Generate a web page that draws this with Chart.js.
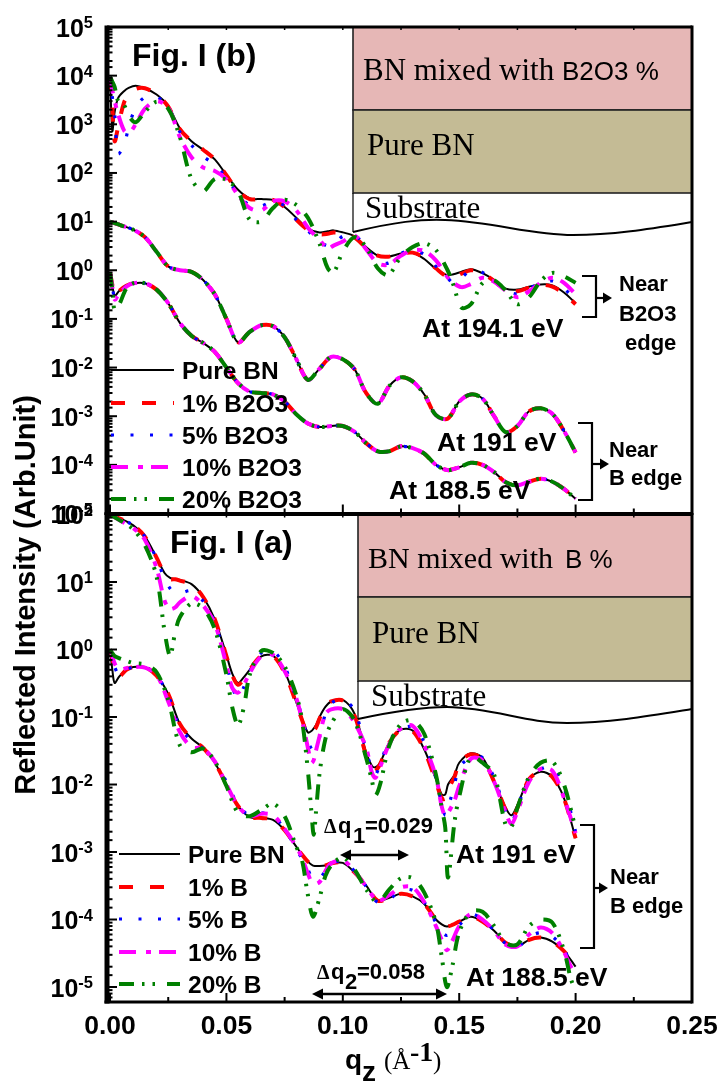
<!DOCTYPE html>
<html><head><meta charset="utf-8">
<style>html,body{margin:0;padding:0;background:#fff}canvas{position:absolute;left:0;top:0}</style>
<script src="https://cdn.jsdelivr.net/npm/chart.js@4/dist/chart.umd.js"></script>
</head><body>
<canvas id="panelB" width="722" height="1082"></canvas>
<canvas id="panelA" width="722" height="1082"></canvas>
<script>
// ---------- tick labels ----------
const xTickLabels = ['0.00','0.05','0.10','0.15','0.20','0.25'];
const yExponentsB = [5,4,3,2,1,0,-1,-2,-3,-4,-5];
const yExponentsA = [2,1,0,-1,-2,-3,-4,-5];
// ---------- series names ----------
const legendLabelsB = ['Pure BN','1% B2O3','5% B2O3','10% B2O3','20% B2O3'];
const legendLabelsA = ['Pure BN','1% B','5% B','10% B','20% B'];

// ---------- Fig. I (b): At 194.1 eV ----------
const qB194 = [0,.001,.002,.0035,.006,.008,.011,.015,.02,.025,.03,.035,.04,.045,.05,.055,.06,.065,.07,.075,.08,.085,.09,.0935,.096,.10,.105,.11,.115,.1195,.125,.13,.135,.14,.145,.1475,.151,.155,.16,.165,.17,.175,.18,.185,.19,.195,.20];
const b194Pure = [9.5e3,7.4e2,1.8e3,3.5e3,4.8e3,5.6e3,6.2e3,5.5e3,4.1e3,2.4e3,8.3e2,4.5e2,3e2,1.9e2,91,45,30,29,28,20,12,7.2,6,6.3,6.6,6,5,3,2,1.9,2.2,2.3,1.7,1.07,.79,.83,.93,1.05,.87,.63,.42,.40,.46,.51,.49,.35,.21];
const b194P1 = [9.5e3,2.2e3,4.5e2,9e2,2.8e3,4e3,5.3e3,5.5e3,4.1e3,2.3e3,8e2,4.5e2,3e2,1.9e2,90,43,29,29,28,20,11,6.8,5.5,5.6,6,5.7,4.7,2.9,2,1.9,2.2,2.3,1.8,1.1,.72,.72,.85,1,.87,.6,.41,.37,.44,.5,.46,.33,.2];
const b194P5 = [9.5e3,3.6e3,1.6e3,2.5e2,3.7e2,8.7e2,2.2e3,3.6e3,3.7e3,2.2e3,7e2,3.7e2,2.2e2,1.45e2,80,36,22,21,26,21,11,6.5,3.8,3.2,3.4,5,5.3,2.9,1.6,1.4,2.2,2.6,2.1,1.2,.7,.55,.7,1,.9,.6,.38,.33,.43,.52,.6,.42,.25];
const b194P10 = [9.5e3,5e3,3e3,1.6e3,7.5e2,6.5e2,1e3,2.1e3,3e3,2.2e3,5.5e2,2.1e2,1.3e2,1.1e2,75,35,19,17,26,26,17,7.5,4.2,2.8,3.2,3.9,5.2,2.7,1.4,1.3,2,2.6,2.5,1.6,.72,.55,.45,.52,.7,.58,.38,.28,.37,.55,.7,.55,.32];
const b194P20 = [9.5e3,7.5e3,5.8e3,3e3,2.5e3,1.5e3,1.1e3,1.8e3,2.9e3,2.1e3,5.5e2,75,42,75,72,42,11,10,19,28,22,12,3.5,1.1,.9,2.4,4.8,3,1.1,.8,1.9,3,3.6,2.6,1,.5,.17,.2,.54,.62,.38,.2,.28,.6,.88,.75,.55];

// ---------- Fig. I (b): At 191 eV (all five curves coincide on the picture) ----------
const qB191 = [0,.005,.01,.015,.02,.025,.03,.035,.04,.045,.05,.055,.06,.065,.07,.075,.08,.085,.09,.095,.10,.105,.11,.115,.12,.125,.13,.135,.14,.145,.15,.155,.16,.165,.17,.175,.18,.185,.19,.195,.20];
const b191All = [10,8.3,6.8,4.8,2.4,1.2,1,.93,.63,.32,.10,.033,.054,.074,.071,.042,.015,.0056,.0095,.0166,.0148,.0093,.003,.0018,.0042,.0063,.0052,.0028,.00105,.00089,.002,.0028,.0023,.001,.00047,.00063,.00126,.00145,.00112,.0005,.00018];

// ---------- Fig. I (b): At 188.5 eV (coincide except below q = 0.01) ----------
const qB188 = [0,.001,.002,.004,.007,.01,.015,.02,.025,.03,.035,.04,.045,.05,.055,.06,.065,.07,.075,.08,.085,.09,.095,.10,.105,.11,.115,.12,.125,.13,.135,.14,.145,.15,.155,.16,.165,.17,.175,.18,.185,.19,.195,.20];
const b188Tail = [.54,.54,.4,.21,.083,.045,.032,.021,.01,.0048,.0032,.003,.0028,.002,.0011,.00071,.0006,.00063,.00063,.00048,.00028,.00019,.00019,.00024,.00022,.00017,.0001,7.8e-5,8.9e-5,.00011,.0001,7.1e-5,4.4e-5,3.8e-5,4.5e-5,5.2e-5,4.5e-5,3.2e-5,2e-5];
const b188Pure = [.91,.5,.3,.38,.48,...b188Tail];
const b188P1 = [.91,.5,.3,.38,.48,...b188Tail];
const b188P5 = [.91,.48,.28,.36,.47,...b188Tail];
const b188P10 = [.91,.45,.25,.33,.46,...b188Tail];
const b188P20 = [.91,.4,.15,.2,.42,...b188Tail];

// ---------- Fig. I (a): At 191 eV ----------
const qA191 = [0,.005,.01,.015,.02,.0235,.0258,.028,.03,.035,.04,.045,.05,.0525,.055,.0575,.06,.065,.07,.075,.08,.0825,.085,.0865,.0875,.0885,.09,.0925,.095,.10,.105,.11,.1125,.114,.116,.12,.125,.13,.135,.14,.1425,.144,.1452,.148,.15,.155,.16,.165,.17,.1725,.175,.18,.185,.19,.195,.20];
const a191Pure = [100,85,69,47,23,13.5,11.5,11,10.7,9.3,6,2.8,.83,.44,.32,.39,.5,.79,.81,.47,.166,.095,.059,.062,.068,.076,.1,.141,.17,.18,.112,.03,.019,.018,.021,.042,.065,.063,.033,.012,.0071,.0071,.01,.014,.021,.029,.025,.011,.0045,.0035,.005,.012,.0155,.013,.0063,.0016];
const a191P1 = [100,85,69,47,23,13,11,11,10.5,9.3,6,2.8,.8,.42,.3,.37,.5,.8,.8,.45,.16,.09,.055,.058,.063,.07,.095,.14,.17,.175,.105,.027,.017,.016,.02,.042,.065,.062,.032,.011,.0062,.0062,.0085,.013,.021,.028,.024,.011,.0042,.003,.0045,.012,.0155,.013,.0062,.0016];
const a191P5 = [100,85,69,47,22,11,8,6.9,6.8,7.4,5.2,2.5,.63,.28,.19,.28,.47,.89,.95,.56,.19,.1,.045,.034,.032,.035,.05,.11,.16,.18,.126,.032,.0166,.014,.02,.045,.066,.071,.042,.0126,.005,.0035,.0045,.01,.018,.025,.025,.0126,.004,.0028,.0045,.0126,.017,.018,.0089,.002];
const a191P10 = [100,79,63,42,16,5.2,4,4.2,5,6.2,4.5,2.4,.59,.27,.23,.3,.45,.79,.83,.48,.19,.089,.035,.021,.023,.032,.052,.11,.13,.13,.083,.035,.015,.0126,.018,.04,.068,.074,.038,.013,.0047,.0034,.0038,.0058,.0095,.024,.023,.011,.0038,.0026,.004,.011,.017,.016,.0063,.0019];
const a191P20 = [100,79,60,35,12,1.8,.81,1.8,3,4.8,4.1,2,.42,.14,.076,.14,.42,.95,.89,.56,.21,.089,.016,.004,.0018,.004,.0145,.047,.079,.13,.089,.025,.0115,.0069,.01,.038,.079,.089,.056,.014,.0045,.0023,.00042,.0028,.0066,.026,.021,.014,.0025,.0024,.0045,.013,.021,.022,.01,.0022];

// ---------- Fig. I (a): At 188.5 eV ----------
const qA188 = [0,.001,.002,.004,.007,.01,.015,.02,.025,.03,.035,.04,.045,.05,.055,.06,.065,.07,.075,.08,.0825,.085,.0872,.09,.0925,.095,.10,.105,.11,.115,.12,.125,.13,.135,.14,.1425,.1447,.147,.15,.155,.16,.165,.17,.175,.18,.185,.19,.195,.198,.2];
const a188PureTail = [.55,.55,.41,.22,.079,.048,.035,.021,.01,.0048,.0033,.0032,.003,.0021,.0012,.00091,.00072,.00063,.00062,.00063,.00068,.00069,.0005,.00032,.00019,.00021,.00024,.00022,.00017,.0001,8.5e-5,7.9e-5,8.3e-5,9.3e-5,.00011,9.3e-5,6.8e-5,4.5e-5,4e-5,5e-5,5.4e-5,4.7e-5,3.4e-5,2.5e-5,2e-5];
const a188Pure = [1,.5,.32,.4,.5,...a188PureTail];
const a188P1 = [1,.75,.5,.4,.5,...a188PureTail];
const a188P5 = [1,.75,.55,.42,.5,.55,.55,.41,.21,.07,.045,.034,.022,.011,.005,.0035,.0038,.0034,.0022,.0011,.0008,.00055,.0004,.00041,.00052,.00066,.00074,.00052,.00031,.00018,.0002,.00027,.00027,.00018,9e-5,6.5e-5,5.8e-5,6.5e-5,8.2e-5,.00012,.0001,6.9e-5,4.4e-5,3.9e-5,5.5e-5,6.4e-5,5.6e-5,3.6e-5,2.2e-5,1.8e-5];
const a188P10 = [1,.8,.62,.5,.53,.55,.54,.42,.17,.06,.036,.034,.022,.01,.0048,.0034,.0037,.0035,.0022,.0012,.00082,.00048,.00034,.00036,.00052,.00068,.00075,.00052,.00031,.00019,.00023,.0003,.0003,.00018,8e-5,5e-5,3.5e-5,4.8e-5,8e-5,.00012,.0001,6.8e-5,4.2e-5,4e-5,6e-5,7.6e-5,6.3e-5,3.3e-5,2e-5,1.6e-5];
const a188P20 = [1,.88,.8,.74,.68,.63,.6,.46,.18,.038,.03,.034,.022,.0095,.0038,.0034,.0042,.0052,.0034,.0012,.00075,.00023,.00011,.00021,.00044,.00063,.00083,.00055,.00028,.00018,.00028,.00041,.00041,.00025,9e-5,2.8e-5,1e-5,2e-5,6.5e-5,.00013,.00013,8e-5,4.5e-5,4.3e-5,8e-5,.0001,9e-5,3.5e-5,1.3e-5,9e-6];

// ---------- styles ----------
const seriesColors = ['#000000','#ff0000','#0000ff','#ff00ff','#008000'];
const seriesDashes = [[],[14,17],[3,16.5],[17,10,5,8],[15,8,2.5,8,2.5,12]];
const seriesWidths = [2,4,3.2,4,4];
const SANS = '"Liberation Sans", Arial, sans-serif', SERIF = '"Liberation Serif", "Times New Roman", serif';

const zip = (q, v) => q.map((x, i) => ({x, y: v[i]}));
function family(q, arrays, tag) {
  return arrays.map((v, i) => ({
    label: tag + ' ' + i,
    data: zip(q, v),
    borderColor: seriesColors[i],
    borderWidth: seriesWidths[i],
    borderDash: seriesDashes[i],
    borderCapStyle: 'butt',
    pointRadius: 0,
    fill: false,
    tension: 0.32,
    order: 4 - i
  }));
}

function text(ctx, s, x, y, font, align) {
  ctx.font = font; ctx.textAlign = align || 'left'; ctx.textBaseline = 'alphabetic';
  ctx.fillStyle = '#000'; ctx.fillText(s, x, y);
}
function arrowHead(ctx, x, y, dir, len, half) {
  ctx.beginPath(); ctx.moveTo(x, y); ctx.lineTo(x - dir * len, y - half); ctx.lineTo(x - dir * len, y + half);
  ctx.closePath(); ctx.fillStyle = '#000'; ctx.fill();
}
function line(ctx, x0, y0, x1, y1, w) {
  ctx.beginPath(); ctx.moveTo(x0, y0); ctx.lineTo(x1, y1); ctx.lineWidth = w; ctx.strokeStyle = '#000'; ctx.stroke();
}
function bracket(ctx, xL, xR, yT, yB, yA, xA) {
  ctx.beginPath(); ctx.moveTo(xL, yT); ctx.lineTo(xR, yT); ctx.lineTo(xR, yB); ctx.lineTo(xL, yB);
  ctx.lineWidth = 2.2; ctx.strokeStyle = '#000'; ctx.stroke();
  line(ctx, xR, yA, xA - 6, yA, 2.2); arrowHead(ctx, xA, yA, 1, 9, 5.5);
}
function doubleArrow(ctx, x0, x1, y) {
  line(ctx, x0 + 8, y, x1 - 8, y, 2.4);
  arrowHead(ctx, x0, y, -1, 11, 5.5); arrowHead(ctx, x1, y, 1, 11, 5.5);
}
function inset(ctx, b) {
  ctx.save();
  ctx.setLineDash([]);
  ctx.lineWidth = 1.6; ctx.strokeStyle = '#222';
  ctx.fillStyle = '#e6b7b6'; ctx.fillRect(b.x0, b.y0, b.x1 - b.x0, b.y1 - b.y0); ctx.strokeRect(b.x0, b.y0, b.x1 - b.x0, b.y1 - b.y0);
  ctx.fillStyle = '#c4bb95'; ctx.fillRect(b.x0, b.y1, b.x1 - b.x0, b.y2 - b.y1); ctx.strokeRect(b.x0, b.y1, b.x1 - b.x0, b.y2 - b.y1);
  const c = b.curve;
  line(ctx, b.x0, b.y2, b.x0, c[0][1], 1.2);
  ctx.beginPath(); ctx.moveTo(c[0][0], c[0][1]);
  for (let i = 1; i + 2 < c.length; i += 3) ctx.bezierCurveTo(c[i][0], c[i][1], c[i+1][0], c[i+1][1], c[i+2][0], c[i+2][1]);
  ctx.lineWidth = 2; ctx.strokeStyle = '#000'; ctx.stroke();
  ctx.restore();
}

function framePlugin(cfg) {
  return {
    id: 'frame' + cfg.name,
    afterDatasetsDraw(chart) {
      const ctx = chart.ctx, a = chart.chartArea, X = chart.scales.x, Y = chart.scales.y;
      ctx.save();
      ctx.setLineDash([]);
      cfg.insets(ctx);
      // frame
      line(ctx, a.left, a.top, a.right, a.top, 3);
      line(ctx, a.right, a.top - 1.5, a.right, a.bottom + 1.5, 3);
      line(ctx, a.left - 2.5, a.bottom, a.right, a.bottom, 3);
      line(ctx, a.left, a.top - 1.5, a.left, a.bottom + 1.5, 5);
      // inward ticks, positions from the scales
      Y.ticks.forEach(t => {
        const e = Math.log10(t.value), major = Math.abs(e - Math.round(e)) < 1e-6;
        const y = Y.getPixelForValue(t.value);
        line(ctx, a.left, y, a.left + (major ? 10 : 5.5), y, 2);
      });
      X.ticks.forEach(t => {
        const major = Math.abs(t.value / 0.05 - Math.round(t.value / 0.05)) < 1e-6;
        const x = X.getPixelForValue(t.value);
        line(ctx, x, a.bottom, x, a.bottom - (major ? 9 : 5), 2);
        line(ctx, x, a.top, x, a.top + 3, 1.5);
      });
      // y tick labels
      cfg.yExps.forEach(e => {
        const y = Y.getPixelForValue(Math.pow(10, e));
        const es = String(e);
        ctx.font = 'bold 16.5px ' + SANS;
        const w = ctx.measureText(es).width;
        text(ctx, '10', 93 - w, y + 9.5, 'bold 25px ' + SANS, 'right');
        text(ctx, es, 93, y + 1, 'bold 16.5px ' + SANS, 'right');
      });
      // legend
      cfg.legend.labels.forEach((lab, i) => {
        const y = cfg.legend.ys[i];
        ctx.beginPath(); ctx.moveTo(cfg.legend.x0, y); ctx.lineTo(cfg.legend.x1, y);
        ctx.setLineDash(seriesDashes[i]); ctx.lineWidth = seriesWidths[i]; ctx.strokeStyle = seriesColors[i]; ctx.stroke();
        ctx.setLineDash([]);
        text(ctx, lab, cfg.legend.tx, y + 8.5, 'bold 24.5px ' + SANS);
      });
      cfg.notes(ctx);
      ctx.restore();
    }
  };
}

function makeChart(id, datasets, yMin, yMax, pad, xBandHeight, showX, cfg) {
  return new Chart(document.getElementById(id), {
    type: 'line',
    data: {datasets},
    plugins: [framePlugin(cfg)],
    options: {
      responsive: false, animation: false, devicePixelRatio: 1,
      layout: {padding: pad},
      plugins: {legend: {display: false}, tooltip: {enabled: false}},
      scales: {
        x: {
          type: 'linear', min: -0.0013, max: 0.25,
          grid: {display: false}, border: {display: false},
          ticks: {
            display: showX, stepSize: 0.025, includeBounds: false, autoSkip: false, maxRotation: 0, minRotation: 0,
            padding: 1, color: '#000', font: {family: SANS, weight: 'bold', size: 26.5},
            callback: v => {
              const k = v / 0.05;
              return Math.abs(k - Math.round(k)) < 1e-6 ? xTickLabels[Math.round(k)] : '';
            }
          },
          afterFit(s) { s.height = xBandHeight; s.paddingLeft = 0; s.paddingRight = 0; }
        },
        y: {
          type: 'logarithmic', min: yMin, max: yMax,
          grid: {display: false}, border: {display: false},
          ticks: {display: false},
          afterFit(s) { s.width = 0; s.paddingTop = 0; s.paddingBottom = 0; }
        }
      }
    }
  });
}

// ---------- Fig. I (b) ----------
makeChart('panelB',
  [...family(qB194, [b194Pure,b194P1,b194P5,b194P10,b194P20], '194.1 eV'),
   ...family(qB191, [b191All,b191All,b191All,b191All,b191All], '191 eV'),
   ...family(qB188, [b188Pure,b188P1,b188P5,b188P10,b188P20], '188.5 eV')],
  1e-5, 1e5, {left: 107, right: 30, top: 27, bottom: 568.5}, 0, false, {
    name: 'B', yExps: yExponentsB,
    legend: {labels: legendLabelsB, ys: [370,403,435,467,499], x0: 111, x1: 174, tx: 182},
    insets(ctx) {
      inset(ctx, {x0: 353, x1: 692, y0: 27, y1: 110, y2: 193,
        curve: [[353,232],[395,222],[420,219],[445,220],[495,222],[530,235],[573,235],[615,235],[655,228],[692,222]]});
      text(ctx, 'BN mixed with', 363, 80, '31px ' + SERIF);
      text(ctx, 'B2O3 %', 562, 80, '26px ' + SANS);
      text(ctx, 'Pure BN', 367, 155, '31px ' + SERIF);
      text(ctx, 'Substrate', 365, 218, '31px ' + SERIF);
    },
    notes(ctx) {
      text(ctx, 'Fig. I (b)', 132, 66, 'bold 32px ' + SANS);
      text(ctx, 'At 194.1 eV', 422, 337, 'bold 26.5px ' + SANS);
      text(ctx, 'At 191 eV', 437, 451, 'bold 26.5px ' + SANS);
      text(ctx, 'At 188.5 eV', 389, 499, 'bold 26.5px ' + SANS);
      bracket(ctx, 582, 596, 276, 317, 298, 612);
      text(ctx, 'Near', 619, 291, 'bold 22px ' + SANS);
      text(ctx, 'B2O3', 619, 321, 'bold 22px ' + SANS);
      text(ctx, 'edge', 625, 350, 'bold 22px ' + SANS);
      bracket(ctx, 578, 592, 423, 500, 464, 609);
      text(ctx, 'Near', 609, 457, 'bold 22px ' + SANS);
      text(ctx, 'B edge', 609, 485, 'bold 22px ' + SANS);
    }
  });

// ---------- Fig. I (a) ----------
makeChart('panelA',
  [...family(qA191, [a191Pure,a191P1,a191P5,a191P10,a191P20], '191 eV'),
   ...family(qA188, [a188Pure,a188P1,a188P5,a188P10,a188P20], '188.5 eV')],
  6e-6, 100, {left: 107, right: 30, top: 514.5, bottom: 0}, 80, true, {
    name: 'A', yExps: yExponentsA,
    legend: {labels: legendLabelsA, ys: [854,887,919,952,984], x0: 119, x1: 180, tx: 188},
    insets(ctx) {
      inset(ctx, {x0: 358, x1: 692, y0: 515, y1: 597, y2: 681,
        curve: [[358,719],[395,711],[420,707],[447,707],[495,708],[525,723],[567,723],[610,723],[655,715],[692,709]]});
      text(ctx, 'BN mixed with', 368, 568, '30px ' + SERIF);
      text(ctx, 'B %', 565, 568, '26px ' + SANS);
      text(ctx, 'Pure BN', 372, 643, '31px ' + SERIF);
      text(ctx, 'Substrate', 371, 706, '31px ' + SERIF);
    },
    notes(ctx) {
      text(ctx, 'Fig. I (a)', 170, 553, 'bold 32px ' + SANS);
      text(ctx, 'At 191 eV', 456, 863, 'bold 26.5px ' + SANS);
      text(ctx, 'At 188.5 eV', 466, 986, 'bold 26.5px ' + SANS);
      bracket(ctx, 580, 594, 825, 948, 888, 608);
      text(ctx, 'Near', 610, 884, 'bold 22px ' + SANS);
      text(ctx, 'B edge', 610, 913, 'bold 22px ' + SANS);
      // delta-q annotations
      text(ctx, '\u0394', 324, 833, 'bold 20px ' + SERIF);
      text(ctx, 'q', 338, 833, 'bold 22px ' + SANS);
      text(ctx, '1', 353, 843, 'bold 22px ' + SANS);
      text(ctx, '=0.029', 365, 833, 'bold 22px ' + SANS);
      doubleArrow(ctx, 340, 409, 855);
      text(ctx, '\u0394', 317, 979, 'bold 20px ' + SERIF);
      text(ctx, 'q', 331, 979, 'bold 22px ' + SANS);
      text(ctx, '2', 345, 989, 'bold 22px ' + SANS);
      text(ctx, '=0.058', 357, 979, 'bold 22px ' + SANS);
      doubleArrow(ctx, 312, 447, 994);
      // axis titles
      ctx.save();
      ctx.translate(35, 595); ctx.rotate(-Math.PI / 2);
      text(ctx, 'Reflected Intensity (Arb.Unit)', 0, 0, 'bold 29px ' + SANS, 'center');
      ctx.restore();
      text(ctx, 'q', 345, 1069, 'bold 28px ' + SANS);
      text(ctx, 'z', 362, 1081, 'bold 28px ' + SANS);
      text(ctx, '(\u00c5', 384, 1069, '25px ' + SERIF);
      text(ctx, '-1', 410, 1061, 'bold 28px ' + SERIF);
      text(ctx, ')', 433, 1069, '25px ' + SERIF);
    }
  });
</script>
</body></html>
